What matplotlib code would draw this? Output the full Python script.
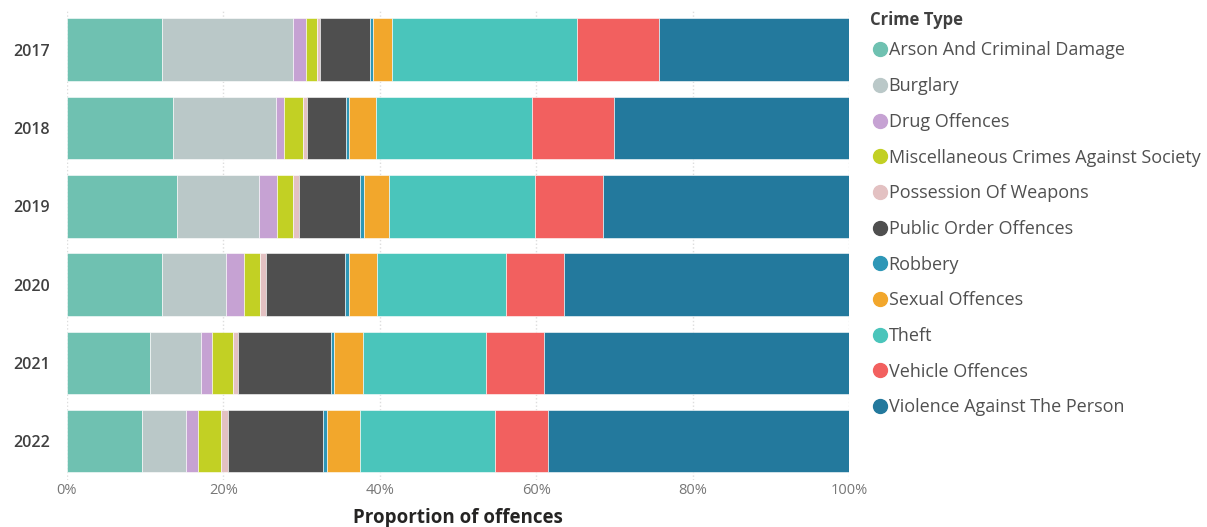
import matplotlib.pyplot as plt
from matplotlib.lines import Line2D
from matplotlib.ticker import PercentFormatter
import numpy as np

years = ['2017', '2018', '2019', '2020', '2021', '2022']

# share of offences per crime type (%), one value per year
arson = [12.2, 13.6, 14.1, 12.2, 10.6, 9.6]
burglary = [16.7, 13.1, 10.5, 8.1, 6.5, 5.6]
drug = [1.7, 1.1, 2.3, 2.3, 1.5, 1.6]
misc_society = [1.4, 2.4, 2.0, 2.1, 2.6, 2.9]
weapons = [0.4, 0.5, 0.8, 0.8, 0.7, 0.9]
public_order = [6.4, 5.0, 7.8, 10.0, 11.9, 12.1]
robbery = [0.3, 0.4, 0.5, 0.6, 0.3, 0.5]
sexual = [2.5, 3.4, 3.2, 3.6, 3.8, 4.3]
theft = [23.6, 19.9, 18.7, 16.4, 15.7, 17.2]
vehicle = [10.5, 10.5, 8.6, 7.4, 7.4, 6.8]
violence = [24.3, 30.1, 31.5, 36.5, 39.0, 38.5]

crime_types = ['Arson And Criminal Damage', 'Burglary', 'Drug Offences',
               'Miscellaneous Crimes Against Society', 'Possession Of Weapons',
               'Public Order Offences', 'Robbery', 'Sexual Offences', 'Theft',
               'Vehicle Offences', 'Violence Against The Person']
series = [arson, burglary, drug, misc_society, weapons, public_order,
          robbery, sexual, theft, vehicle, violence]
colors = ['#6FC1B1', '#BAC8C8', '#C6A2D3', '#C2D024', '#E3C1C2', '#4F4F4F',
          '#2E97B7', '#F2A72C', '#4AC5BB', '#F2605F', '#23799D']

plt.rcParams['font.family'] = ['Open Sans', 'DejaVu Sans']

fig = plt.figure(figsize=(12.07, 5.27), dpi=100)
ax = fig.add_axes([0.0555, 0.0886, 0.648, 0.8914])

y = np.arange(len(years))
left = np.zeros(len(years))
for name, vals, col in zip(crime_types, series, colors):
    vals = np.array(vals)
    ax.barh(y, vals, left=left, height=0.8, color=col, edgecolor='white',
            linewidth=0.4, label=name, zorder=2)
    left += vals

ax.set_xlim(0, 100)
ax.set_ylim(len(years) - 0.5, -0.5)
ax.set_yticks(y)
ax.set_yticklabels(years, fontsize=11.5, color='#404040', fontweight='semibold')
ax.set_xticks(np.arange(0, 101, 20))
ax.xaxis.set_major_formatter(PercentFormatter(decimals=0))
ax.tick_params(axis='x', labelsize=10.5, labelcolor='#777777', length=0, pad=2)
ax.tick_params(axis='y', length=0, pad=12)
ax.grid(axis='x', linestyle=':', color='#dddddd', linewidth=1, zorder=0)
ax.set_axisbelow(True)
for s in ax.spines.values():
    s.set_visible(False)

ax.set_xlabel('Proportion of offences', fontsize=13.5, fontweight='bold',
              color='#252423', labelpad=7)

# legend title drawn separately so it can sit closer to the entries
fig.text(870 / 1207, 1 - 20 / 527, 'Crime Type', fontsize=12, fontweight='bold',
         color='#404040', ha='left', va='center')

handles = [Line2D([], [], marker='o', linestyle='', markersize=10,
                  markerfacecolor=c, markeredgecolor=c) for c in colors]
leg = fig.legend(handles, crime_types, loc='upper left',
                 bbox_to_anchor=(0.713, 0.935), frameon=False,
                 fontsize=13, labelspacing=0.98,
                 handletextpad=-0.25, handlelength=1.4, borderaxespad=0,
                 labelcolor='#505050')

fig.savefig('out.png', dpi=100)
